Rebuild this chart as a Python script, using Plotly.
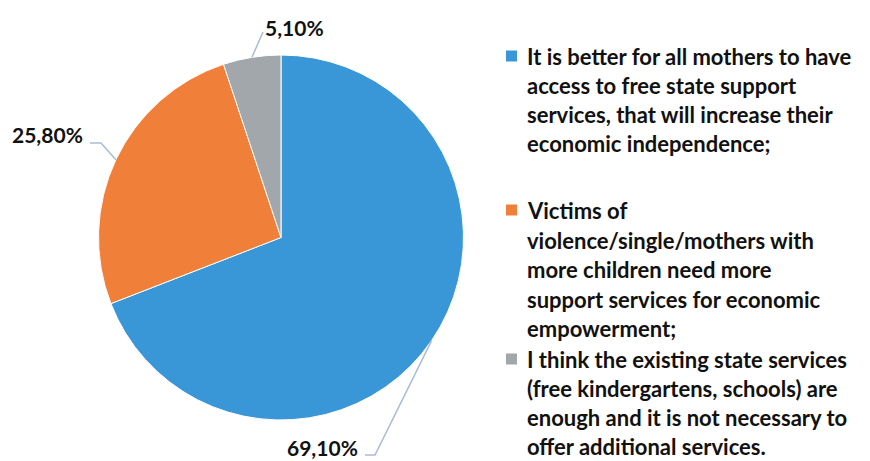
import math
import plotly.graph_objects as go

W, H = 870, 461

# Answers (legend text, one entry per slice; <br> marks the line breaks)
labels = [
    "It is better for all mothers to have<br>access to free state support<br>services, that will increase their<br>economic independence;",
    "Victims of<br>violence/single/mothers with<br>more children need more<br>support services for economic<br>empowerment;",
    "I think the existing state services<br>(free kindergartens, schools) are<br>enough and it is not necessary to<br>offer additional services.",
]
values = [69.1, 25.8, 5.1]
value_text = ["69,10%", "25,80%", "5,10%"]
colors = ["#3A97D7", "#F07F3A", "#A2A7AB"]

# Pie geometry (pixels)
CX, CY, R = 281, 237.5, 182.5

FONT = "Lato"
TXT = "#111111"
LINE = "#A9BCD3"

fig = go.Figure()
fig.add_trace(go.Pie(
    labels=[l.split("<br>")[0] for l in labels],
    values=values,
    sort=False,
    direction="clockwise",
    rotation=0,
    textinfo="none",
    hoverinfo="label+percent",
    marker=dict(colors=colors, line=dict(color="white", width=1)),
    domain=dict(x=[(CX - R) / W, (CX + R) / W],
                y=[1 - (CY + R) / H, 1 - (CY - R) / H]),
    showlegend=False,
))

# Value labels with leader lines: start at slice mid-angle on the rim
label_layout = [
    # elbow, end of line, label anchor, x-anchor
    dict(elbow=(375, 455), end=(365, 455), pos=(359, 447), xa="right"),
    dict(elbow=(101, 143), end=(90, 143), pos=(84, 134), xa="right"),
    dict(elbow=(263, 32), end=(263, 32), pos=(264, 27), xa="left"),
]
total = sum(values)
cum = 0.0
shapes = []
annotations = []
for v, txt, lay in zip(values, value_text, label_layout):
    mid = (cum + v / 2) / total * 2 * math.pi
    cum += v
    px = CX + R * math.sin(mid)
    py = CY - R * math.cos(mid)
    ex, ey = lay["elbow"]
    tx, ty = lay["end"]
    shapes.append(dict(type="path", xref="x", yref="y",
                       path=f"M {px:.1f} {py:.1f} L {ex} {ey} L {tx} {ty}",
                       line=dict(color=LINE, width=1.5)))
    annotations.append(dict(x=lay["pos"][0], y=lay["pos"][1], xref="x", yref="y",
                            text=f"<b>{txt}</b>", showarrow=False, borderpad=0,
                            xanchor=lay["xa"], yanchor="middle",
                            font=dict(family=FONT, size=21, color=TXT)))

# Legend drawn line by line
legend_rows = [
    [56, 85, 114, 143],
    [210, 240, 269, 299, 328],
    [359, 388, 417, 446],
]
for lab, col, rows in zip(labels, colors, legend_rows):
    y0 = rows[0]
    shapes.append(dict(type="rect", xref="x", yref="y",
                       x0=506, x1=517, y0=y0 - 5.5, y1=y0 + 5.5,
                       fillcolor=col, line=dict(width=0)))
    for line_txt, yy in zip(lab.split("<br>"), rows):
        annotations.append(dict(x=526, y=yy, xref="x", yref="y",
                                text=f"<b>{line_txt}</b>", showarrow=False,
                                borderpad=0,
                                xanchor="left", yanchor="middle",
                                font=dict(family=FONT, size=22, color=TXT)))

fig.update_layout(
    width=W, height=H,
    margin=dict(l=0, r=0, t=0, b=0),
    paper_bgcolor="white", plot_bgcolor="rgba(0,0,0,0)",
    xaxis=dict(range=[0, W], visible=False, fixedrange=True, domain=[0, 1]),
    yaxis=dict(range=[H, 0], visible=False, fixedrange=True, domain=[0, 1]),
    shapes=shapes,
    annotations=annotations,
)

fig.write_html("out.html")
